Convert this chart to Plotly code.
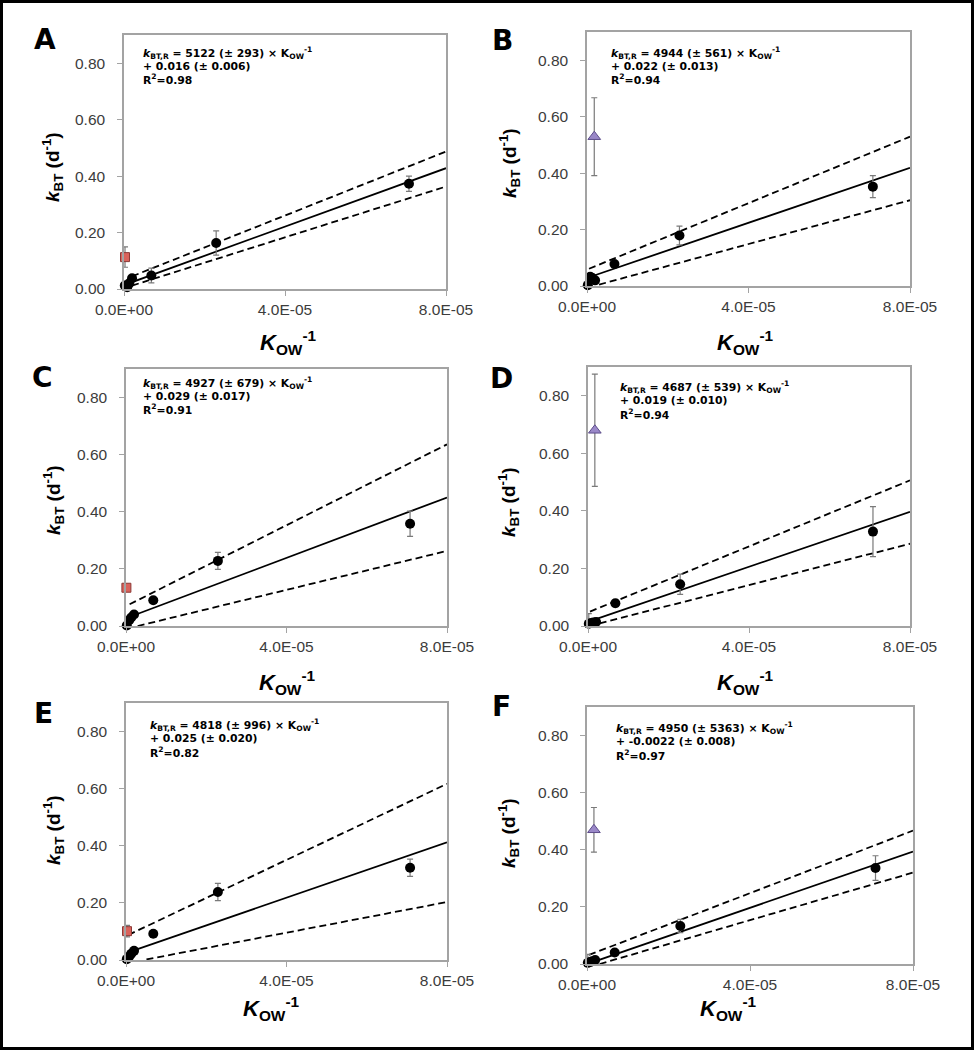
import plotly.graph_objects as go

W, H = 975, 1050

# ---------------- data ----------------
panel_letters = ["A", "B", "C", "D", "E", "F"]

kow_inv = [2e-7, 8e-7, 1.3e-6, 2.0e-6, 6.8e-6, 2.29e-5, 7.08e-5]

kbt_A = [0.012, 0.006, 0.020, 0.038, 0.048, 0.163, 0.373]
kbt_B = [0.003, 0.033, 0.028, 0.020, 0.078, 0.179, 0.352]
kbt_C = [0.002, 0.020, 0.030, 0.040, 0.090, 0.228, 0.358]
kbt_D = [0.008, 0.010, 0.012, 0.014, 0.079, 0.145, 0.328]
kbt_E = [0.003, 0.012, 0.022, 0.032, 0.092, 0.238, 0.323]
kbt_F = [0.004, 0.007, 0.010, 0.014, 0.040, 0.133, 0.336]

err_A = [0, 0, 0, 0, 0.026, 0.043, 0.027]
err_B = [0, 0, 0, 0, 0.010, 0.033, 0.039]
err_C = [0, 0, 0, 0, 0.008, 0.030, 0.044]
err_D = [0.035, 0, 0, 0, 0.012, 0.035, 0.087]
err_E = [0, 0, 0, 0, 0.006, 0.030, 0.030]
err_F = [0.030, 0, 0, 0, 0.006, 0.023, 0.043]

# outlier points (red squares in A, C, E; purple triangles in B, D, F)
outlier_x = [2.5e-7, 1.8e-6, 1e-7, 1.7e-6, 2.5e-7, 1.7e-6]
outlier_y = [0.113, 0.529, 0.134, 0.680, 0.101, 0.470]
outlier_err = [0.036, 0.138, 0.012, 0.195, 0.020, 0.078]

# regression line and confidence band end points: [x_start, y_start, x_end, y_end]
fit_A = [0.0, 0.014, 8e-5, 0.428]
upper_A = [2e-6, 0.045, 8e-5, 0.487]
lower_A = [2e-6, 0.012, 8e-5, 0.363]
fit_B = [5e-7, 0.031, 8e-5, 0.419]
upper_B = [5e-7, 0.061, 8e-5, 0.529]
lower_B = [3e-6, 0.005, 8e-5, 0.304]
fit_C = [1.5e-6, 0.035, 8e-5, 0.450]
upper_C = [9e-7, 0.076, 8e-5, 0.636]
lower_C = [2.9e-6, 0.000, 8e-5, 0.263]
fit_D = [5e-7, 0.017, 8e-5, 0.397]
upper_D = [5e-7, 0.050, 8e-5, 0.506]
lower_D = [2.9e-6, 0.009, 8e-5, 0.286]
fit_E = [1.8e-6, 0.033, 8e-5, 0.412]
upper_E = [6e-7, 0.088, 8e-5, 0.617]
lower_E = [5.1e-6, 0.002, 8e-5, 0.203]
fit_F = [5e-7, 0.002, 8e-5, 0.394]
upper_F = [5e-7, 0.032, 8e-5, 0.467]
lower_F = [3.1e-6, 0.000, 8e-5, 0.320]

slopes = ["5122 (± 293)", "4944 (± 561)", "4927 (± 679)", "4687 (± 539)", "4818 (± 996)", "4950 (± 5363)"]
intercepts = ["+ 0.016 (± 0.006)", "+ 0.022 (± 0.013)", "+ 0.029 (± 0.017)",
              "+ 0.019 (± 0.010)", "+ 0.025 (± 0.020)", "+ -0.0022 (± 0.008)"]
r2_values = ["0.98", "0.94", "0.91", "0.94", "0.82", "0.97"]

y_ticks = [0.0, 0.2, 0.4, 0.6, 0.8]
y_ticktext = ["0.00", "0.20", "0.40", "0.60", "0.80"]
x_ticks = [0.0, 4e-5, 8e-5]
x_ticktext = ["0.0E+00", "4.0E-05", "8.0E-05"]

# ---------------- layout geometry (pixels) ----------------
# plot boxes: left, right, top, bottom
boxes = [(124, 446, 35, 289), (587, 910, 32, 286),
         (126, 447, 369, 626), (588, 910, 367, 626),
         (126, 447, 703, 960), (587, 913, 707, 964)]
letter_pos = [(45, 40), (502, 41), (42, 377), (501, 378), (43, 713), (501, 706)]
ytitle_pos = [(52, 167), (510, 163), (53, 500), (508, 502), (53, 830), (508, 833)]
xtitle_pos = [(288, 342), (745, 342), (287, 682), (745, 682), (271, 1008), (728, 1008)]
eq_offsets = [(17, 18), (22, 21), (15, 14), (30, 20), (22, 22), (27, 21)]

kbts = [kbt_A, kbt_B, kbt_C, kbt_D, kbt_E, kbt_F]
errs = [err_A, err_B, err_C, err_D, err_E, err_F]
fits = [fit_A, fit_B, fit_C, fit_D, fit_E, fit_F]
uppers = [upper_A, upper_B, upper_C, upper_D, upper_E, upper_F]
lowers = [lower_A, lower_B, lower_C, lower_D, lower_E, lower_F]


def px(x):
    return x / W


def py(y):
    return 1 - y / H


FONT = "Liberation Sans, Arial, sans-serif"
EQFONT = "DejaVu Sans, Verdana, sans-serif"
GRAY = "#a3a3a3"

fig = go.Figure()
annotations = []
layout = {}

for i in range(6):
    n = i + 1
    xa = "x" if n == 1 else f"x{n}"
    ya = "y" if n == 1 else f"y{n}"
    l, r, t, b = boxes[i]

    # confidence bands
    for band in (uppers[i], lowers[i]):
        fig.add_trace(go.Scatter(
            x=[band[0], band[2]], y=[band[1], band[3]], mode="lines",
            line=dict(color="black", width=1.8, dash="7px,4px"),
            xaxis=xa, yaxis=ya, showlegend=False, hoverinfo="skip"))
    # regression line
    f = fits[i]
    fig.add_trace(go.Scatter(
        x=[f[0], f[2]], y=[f[1], f[3]], mode="lines",
        line=dict(color="black", width=1.8),
        xaxis=xa, yaxis=ya, showlegend=False, hoverinfo="skip"))
    # data points
    fig.add_trace(go.Scatter(
        x=kow_inv, y=kbts[i], mode="markers",
        marker=dict(color="black", size=10, symbol="circle"),
        error_y=dict(type="data", array=errs[i], color="#7a7a7a", thickness=1.2, width=3),
        xaxis=xa, yaxis=ya, showlegend=False, cliponaxis=False))
    # outlier
    if i % 2 == 0:
        mk = dict(color="#d9625b", size=9, symbol="square", line=dict(color="#8c3a36", width=1))
    else:
        mk = dict(color="#9a88c8", size=11, symbol="triangle-up", line=dict(color="#5d4d8a", width=1))
    fig.add_trace(go.Scatter(
        x=[outlier_x[i]], y=[outlier_y[i]], mode="markers", marker=mk,
        error_y=dict(type="data", array=[outlier_err[i]], color="#7a7a7a", thickness=1.2, width=3),
        xaxis=xa, yaxis=ya, showlegend=False, cliponaxis=False))

    xkey = "xaxis" if n == 1 else f"xaxis{n}"
    ykey = "yaxis" if n == 1 else f"yaxis{n}"
    layout[xkey] = dict(
        domain=[px(l), px(r)], range=[0, 8e-5], anchor=ya, automargin=False,
        tickvals=x_ticks, ticktext=x_ticktext, ticks="outside", ticklen=5,
        tickcolor=GRAY, tickwidth=1.2, showgrid=False, zeroline=False,
        showline=True, linecolor=GRAY, linewidth=1.5, mirror=True,
        ticklabelstandoff=1,
        tickfont=dict(family=FONT, size=15.5, color="#3c3c3c"))
    layout[ykey] = dict(
        domain=[py(b), py(t)], range=[0, 0.9], anchor=xa, automargin=False,
        tickvals=y_ticks, ticktext=y_ticktext, ticks="outside", ticklen=5,
        tickcolor=GRAY, tickwidth=1.2, showgrid=False, zeroline=False,
        showline=True, linecolor=GRAY, linewidth=1.5, mirror=True,
        ticklabelstandoff=9,
        tickfont=dict(family=FONT, size=15.5, color="#3c3c3c"))

    # panel letter
    lx, ly = letter_pos[i]
    annotations.append(dict(
        x=px(lx), y=py(ly), xref="paper", yref="paper", showarrow=False,
        text=f"<b>{panel_letters[i]}</b>", xanchor="center", yanchor="middle",
        font=dict(family=EQFONT, size=28, color="black")))
    # y title
    tx, ty = ytitle_pos[i]
    annotations.append(dict(
        x=px(tx), y=py(ty), xref="paper", yref="paper", showarrow=False,
        text="<b><i>k</i><sub>BT</sub> (d<sup>-1</sup>)</b>", textangle=-90,
        xanchor="center", yanchor="middle",
        font=dict(family=FONT, size=19, color="black")))
    # x title
    tx, ty = xtitle_pos[i]
    annotations.append(dict(
        x=px(tx), y=py(ty), xref="paper", yref="paper", showarrow=False,
        text="<b><i>K</i><sub>OW</sub><sup>-1</sup></b>",
        xanchor="center", yanchor="middle",
        font=dict(family=FONT, size=22, color="black")))
    # equation text
    ox, oy = eq_offsets[i]
    lines = [f"<b><i>k</i><sub>BT,R</sub> = {slopes[i]} × K<sub>OW</sub><sup>-1</sup></b>",
             f"<b>{intercepts[i]}</b>",
             f"<b>R<sup>2</sup>={r2_values[i]}</b>"]
    for j, txt in enumerate(lines):
        annotations.append(dict(
            x=px(l + ox), y=py(t + oy + 13.5 * j), xref="paper", yref="paper",
            showarrow=False, text=txt, xanchor="left", yanchor="middle",
            font=dict(family=EQFONT, size=10.8, color="black")))

fig.update_layout(
    width=W, height=H, margin=dict(l=0, r=0, t=0, b=0, pad=0, autoexpand=False),
    paper_bgcolor="white", plot_bgcolor="white",
    annotations=annotations,
    shapes=[dict(type="rect", xref="paper", yref="paper",
                 x0=px(1.5), x1=px(972.5), y0=py(1048.5), y1=py(1.5),
                 line=dict(color="black", width=3))],
    **layout)

fig.write_html("out.html", config={"displayModeBar": False},
               post_script="document.body.style.margin='0px';")
